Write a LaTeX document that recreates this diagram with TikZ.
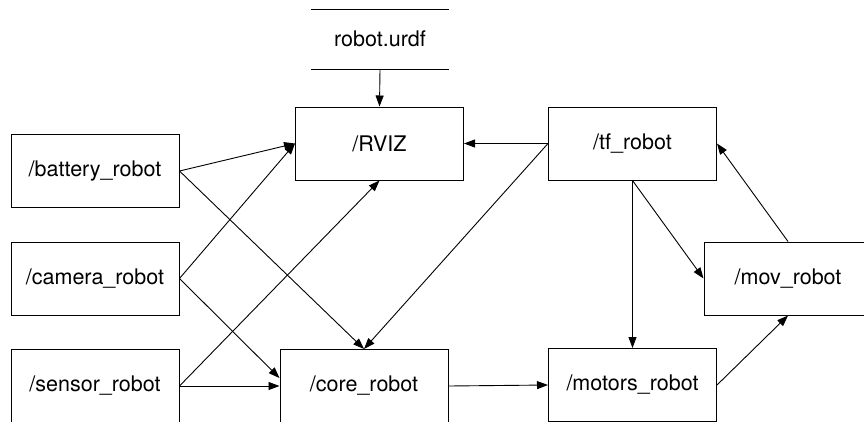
\documentclass[tikz,border=0pt]{standalone}
\usepackage{fontspec}
\setmainfont{TeX Gyre Heros}
\usetikzlibrary{arrows.meta,calc}
\begin{document}
\begin{tikzpicture}[x=1pt,y=-1pt,
  nodebox/.style={draw,line width=1pt,minimum width=168pt,minimum height=73pt,inner sep=0pt,
    font=\fontsize{21.5}{24}\selectfont},
  conn/.style={line width=0.9pt,-{Triangle[length=11pt,width=8pt]}}]
\useasboundingbox (0,0) rectangle (864,421);
\node[nodebox] (battery) at (95,171) {/battery\_robot};
\node[nodebox] (camera) at (95,278.5) {/camera\_robot};
\node[nodebox] (sensor) at (95,386) {/sensor\_robot};
\node[nodebox] (rviz) at (379.5,143.5) {/RVIZ};
\node[nodebox] (tf) at (632.5,143.5) {/tf\_robot};
\node[nodebox] (core) at (364,386) {/core\_robot};
\node[nodebox] (motors) at (632.5,385) {/motors\_robot};
\node[nodebox] (mov) at (788,278.5) {/mov\_robot};
\node[minimum width=138pt,minimum height=59.5pt,inner sep=0pt,
  font=\fontsize{21.5}{24}\selectfont] (urdf) at (380,39.25) {robot.urdf};
\draw[line width=1pt] (urdf.north west) -- (urdf.north east);
\draw[line width=1pt] (urdf.south west) -- (urdf.south east);
\draw[conn] (urdf.south) -- (rviz.north);
\draw[conn] (battery.east) -- (rviz.west);
\draw[conn] (camera.east) -- (rviz.west);
\draw[conn] (sensor.east) -- (rviz.south);
\draw[conn] (battery.east) -- (core.north);
\draw[conn] (camera.east) -- ($(core.west)+(0,-8)$);
\draw[conn] (sensor.east) -- (core.west);
\draw[conn] (tf.west) -- (rviz.east);
\draw[conn] (tf.west) -- (core.north);
\draw[conn] (tf.south) -- (motors.north);
\draw[conn] (tf.south) -- (mov.west);
\draw[conn] (mov.north) -- (tf.east);
\draw[conn] (core.east) -- (motors.west);
\draw[conn] (motors.east) -- (mov.south);
\end{tikzpicture}
\end{document}
